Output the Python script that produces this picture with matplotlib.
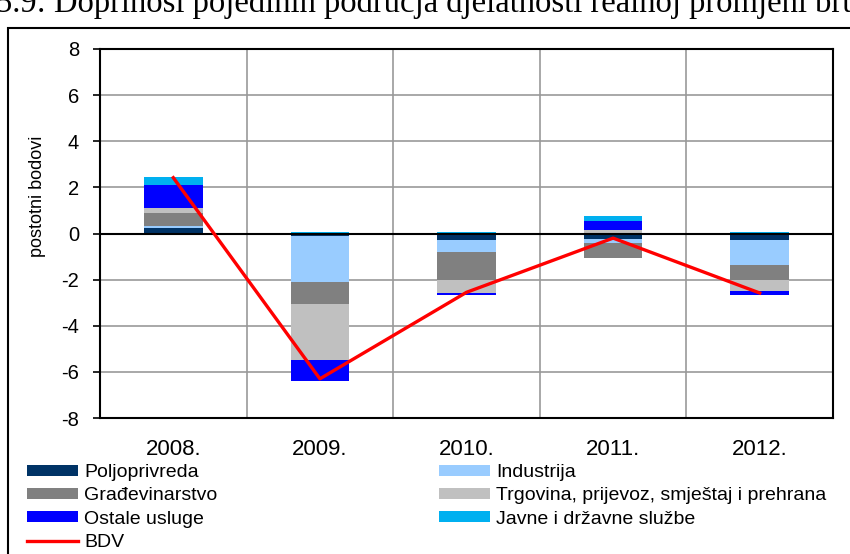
import numpy as np
import matplotlib
matplotlib.use("Agg")
import matplotlib.pyplot as plt
from matplotlib.patches import Rectangle, Patch
from matplotlib.lines import Line2D

plt.rcParams['font.family'] = ['Liberation Sans', 'DejaVu Sans']
plt.rcParams['axes.unicode_minus'] = False

# data (postotni bodovi)
years = ["2008.", "2009.", "2010.", "2011.", "2012."]
poljoprivreda = [0.25, -0.10, -0.30, -0.23, -0.30]
industrija = [0.07, -2.00, -0.51, -0.17, -1.08]
gradjevinarstvo = [0.58, -0.94, -1.19, -0.66, -0.62]
trgovina = [0.22, -2.44, -0.58, 0.15, -0.51]
ostale = [0.97, -0.90, -0.07, 0.40, -0.14]
javne = [0.36, 0.07, 0.07, 0.23, 0.06]
bdv = [2.42, -6.30, -2.55, -0.20, -2.58]

series = [
    ("Poljoprivreda", poljoprivreda, "#003366"),
    ("Industrija", industrija, "#99CCFF"),
    ("Građevinarstvo", gradjevinarstvo, "#808080"),
    ("Trgovina, prijevoz, smještaj i prehrana", trgovina, "#C0C0C0"),
    ("Ostale usluge", ostale, "#0000FF"),
    ("Javne i državne službe", javne, "#00B0F0"),
]

W, H = 850, 554
fig = plt.figure(figsize=(W / 100, H / 100), dpi=100)
ax = fig.add_axes([100 / W, 1 - 418 / H, (833 - 100) / W, (418 - 49) / H])

x = np.arange(len(years))
pos_bottom = np.zeros(len(years))
neg_bottom = np.zeros(len(years))
handles = {}
for name, vals, col in series:
    v = np.array(vals)
    bottom = np.where(v >= 0, pos_bottom, neg_bottom)
    ax.bar(x, v, 0.4, bottom=bottom, color=col, edgecolor="none", zorder=3)
    pos_bottom += np.where(v >= 0, v, 0)
    neg_bottom += np.where(v < 0, v, 0)
    handles[name] = Patch(facecolor=col, edgecolor="none")

ax.plot(x, bdv, color="#FF0000", lw=2.4, zorder=5)
ax.axhline(0, color="black", lw=1.5, zorder=4)

ax.set_xlim(-0.5, len(years) - 0.5)
ax.set_ylim(-8, 8)
ax.set_yticks(np.arange(-8, 9, 2))
ax.set_xticks(x)
ax.set_xticklabels(years, fontsize=16)
ax.set_xticks(np.arange(0.5, len(years) - 0.5), minor=True)
ax.tick_params(axis="x", which="both", length=0, pad=15)
ax.tick_params(axis="y", direction="out", length=5, width=1.2, labelsize=14.5, pad=10)
ax.grid(axis="y", which="major", color="#999999", lw=1.2, zorder=0)
ax.grid(axis="x", which="minor", color="#999999", lw=1.2, zorder=0)
for s in ax.spines.values():
    s.set_linewidth(1.5)

fig.text(38 / W, 1 - 196 / H, "postotni bodovi", rotation=90, fontsize=13,
         ha="center", va="center")

# legend in two columns, Excel style
left_names = ["Poljoprivreda", "Građevinarstvo", "Ostale usluge"]
right_names = ["Industrija", "Trgovina, prijevoz, smještaj i prehrana", "Javne i državne službe"]
leg_kw = dict(frameon=False, fontsize=14, handlelength=2.6, handleheight=0.5,
              handletextpad=0.35, labelspacing=0.33, borderpad=0, borderaxespad=0,
              loc="upper left")
h_left = [handles[n] for n in left_names] + [Line2D([], [], color="#FF0000", lw=2.4)]
fig.legend(h_left, left_names + ["BDV"], bbox_to_anchor=(27 / W, 1 - 464 / H), **leg_kw)
fig.legend([handles[n] for n in right_names], right_names,
           bbox_to_anchor=(439 / W, 1 - 464 / H), **leg_kw)

# outer frame and clipped caption above it
fig.add_artist(Rectangle((8 / W, -0.1), 1.2, 1.1 - 28 / H, transform=fig.transFigure,
                         fill=False, lw=1.5, color="black"))
fig.text(-4 / W, 1 - 12 / H, "5.9: Doprinosi pojedinih područja djelatnosti realnoj promjeni bruto dodane vrijednosti",
         family="Liberation Serif", fontsize=23.5, va="baseline", ha="left")

fig.savefig("out.png", dpi=100)
